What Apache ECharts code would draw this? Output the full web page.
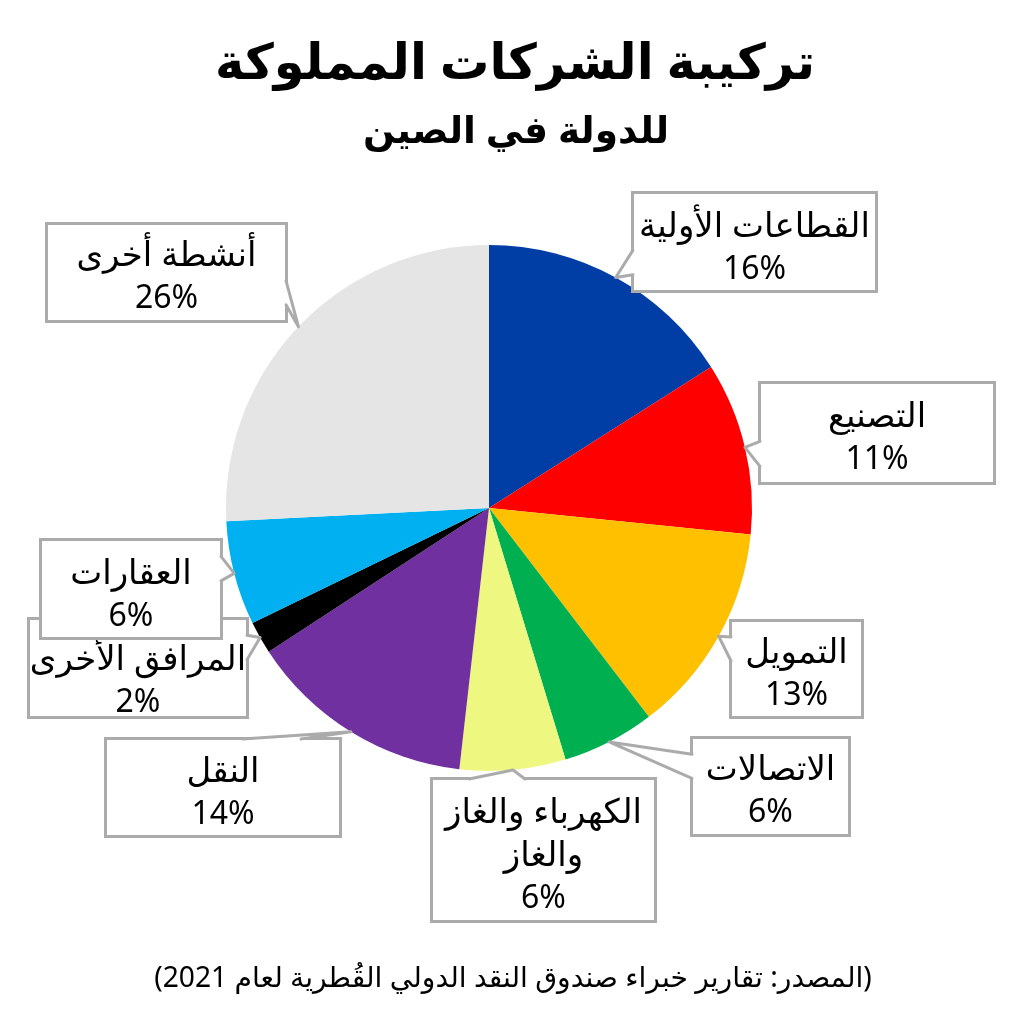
<!DOCTYPE html>
<html><head><meta charset="utf-8">
<style>html,body{margin:0;padding:0;background:#fff}#c{width:1024px;height:1024px}</style>
<script src="https://cdn.jsdelivr.net/npm/echarts@6/dist/echarts.min.js"></script>
</head><body><div id="c"></div>
<script>
const titleText = "تركيبة الشركات المملوكة";
const subtitleText = "للدولة في الصين";
const sourceText = "(المصدر: تقارير خبراء صندوق النقد الدولي القُطرية لعام 2021)";
const categories = ["القطاعات الأولية","التصنيع","التمويل","الاتصالات","الكهرباء والغاز\nوالغاز","النقل","المرافق الأخرى","العقارات","أنشطة أخرى"];
const values = [16, 10.6, 13, 5.7, 6.5, 14, 2, 6.4, 25.8];
const percentLabels = ["16%","11%","13%","6%","6%","14%","2%","6%","26%"];
const colors = ["#003DA5","#FF0000","#FFC000","#00B050","#EEF77F","#7030A0","#000000","#00B0F0","#E5E5E5"];
// callout boxes [x0,y0,x1,y1], the side their pointer leaves from, and text inset from the box top
const boxes = [[633,193,876,291],[760,383,994,483],[731,621,862,717],[692,738,849,835],[432,779,655,921],[106,739,340,836],[29,619,247,717],[41,540,221,638],[47,224,286,321]];
const sides = ["left","left","left","left","top","top","right","right","right"];
const textInset = [12,12,10,10,12,11,19,12,10];
const C = {x:489, y:508, r:263};
const FONT = "'Noto Sans','Open Sans','DejaVu Sans',sans-serif";
const BORDER = "#ABABAB";

const total = values.reduce((a,b)=>a+b,0);
let acc = 0;
const tips = values.map(v=>{const a=(acc+v/2)/total*2*Math.PI; acc+=v; return [C.x+C.r*Math.sin(a), C.y-C.r*Math.cos(a)];});

const wedges = [];
boxes.forEach((b,i)=>{
  const s=sides[i], t=tips[i], vert = s==="left"||s==="right";
  const lo = vert?b[1]:b[0], len = vert?b[3]-b[1]:b[2]-b[0];
  const tv = vert?t[1]:t[0];
  const upper = tv < lo+len/2;
  const f1 = upper?1/6:7/12, f2 = upper?5/12:5/6;
  const e = s==="left"?b[0]:s==="right"?b[2]:s==="top"?b[1]:b[3];
  const inward = (s==="left"||s==="top")?2:-2;
  const mk=(f,o)=>vert?[e+o,lo+len*f]:[lo+len*f,e+o];
  const p1=mk(f1,0), p2=mk(f2,0);
  wedges.push({type:'polygon',z:10,silent:true,shape:{points:[mk(f1,inward),p1,t,p2,mk(f2,inward)]},style:{fill:'#fff',stroke:null}});
  wedges.push({type:'polyline',z:11,silent:true,shape:{points:[p1,t,p2]},style:{fill:null,stroke:BORDER,lineWidth:3,lineJoin:'round',lineCap:'round'}});
});

const chart = echarts.init(document.getElementById('c'),null,{renderer:'canvas'});
chart.setOption({
  backgroundColor:'#fff',
  animation:false,
  title:[
    {text:titleText,left:510,top:35,textAlign:'center',textStyle:{fontFamily:FONT,fontSize:49.5,fontWeight:'bold',color:'#000'}},
    {text:subtitleText,left:511,top:108,textAlign:'center',textStyle:{fontFamily:FONT,fontSize:37.5,fontWeight:'bold',color:'#000'}},
    {text:sourceText,left:508,top:960,textAlign:'center',textStyle:{fontFamily:FONT,fontSize:28.2,fontWeight:'normal',color:'#000'}}
  ],
  color:colors,
  series:[{
    type:'pie',
    center:[C.x,C.y],radius:C.r,startAngle:90,clockwise:true,
    avoidLabelOverlap:false,silent:true,
    itemStyle:{borderWidth:0},
    labelLine:{show:false},
    label:{show:true,position:'outside',overflow:'none',
      formatter:p=>p.name.split("\n").map(l=>"{a|"+l+"}").join("\n")+"\n{b|"+percentLabels[p.dataIndex]+"}",
      fontFamily:FONT,color:'#000',align:'center',verticalAlign:'middle',
      backgroundColor:'#fff',borderColor:BORDER,borderWidth:3,
      rich:{
        a:{fontFamily:FONT,fontSize:34,lineHeight:43,color:'#000',align:'center'},
        b:{fontFamily:FONT,fontSize:32,lineHeight:41,color:'#000',align:'center'}
      }},
    labelLayout:p=>{const b=boxes[p.dataIndex];return {x:(b[0]+b[2])/2,y:(b[1]+b[3])/2,align:'center',verticalAlign:'middle'};},
    data:categories.map((n,i)=>({name:n,value:values[i],label:{
      width:boxes[i][2]-boxes[i][0]-2,height:boxes[i][3]-boxes[i][1]-textInset[i]-2,padding:[textInset[i],0,0,0]}}))
  }],
  graphic:wedges
});
</script></body></html>
